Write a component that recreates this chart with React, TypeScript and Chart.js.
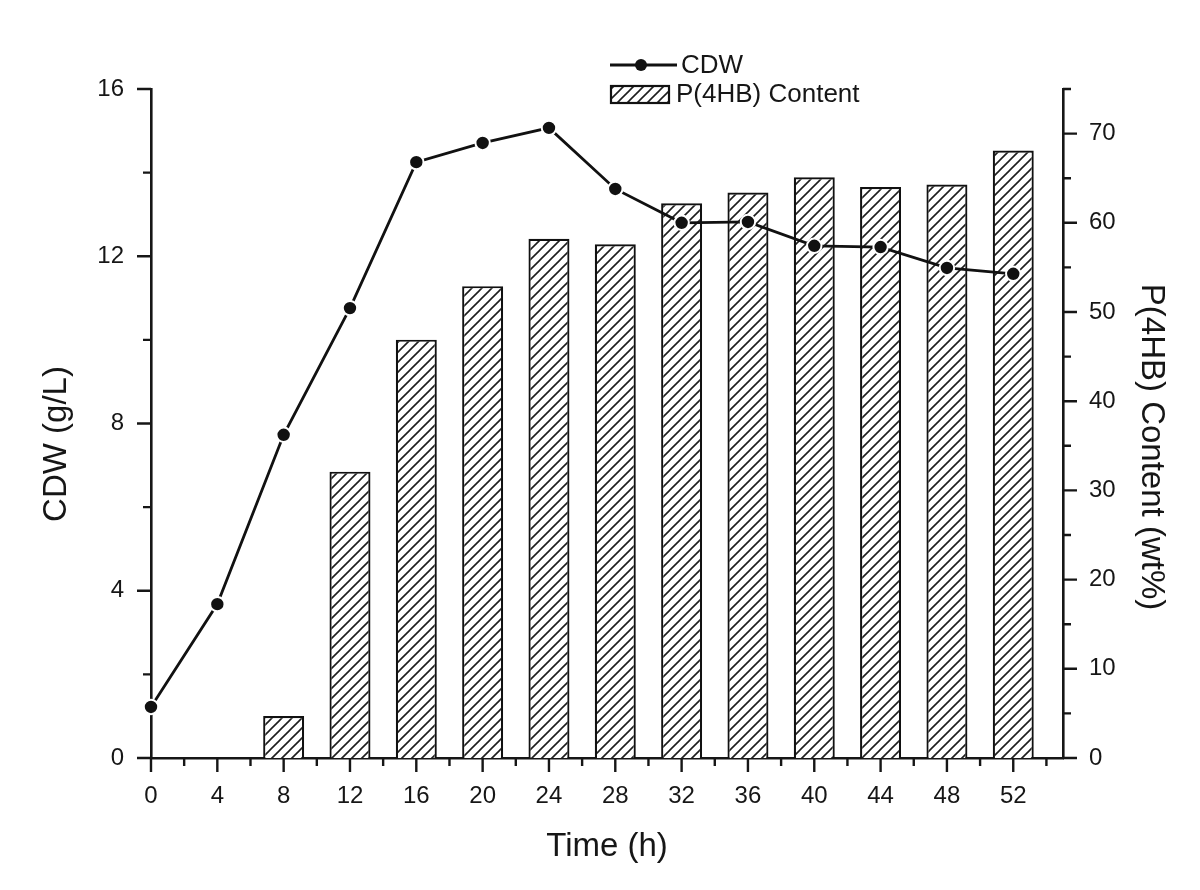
import React, { useEffect, useRef } from "react";
import { Chart, registerables } from "chart.js";

Chart.register(...registerables);

const timeH = [0, 4, 8, 12, 16, 20, 24, 28, 32, 36, 40, 44, 48, 52];
const cdw = [1.22, 3.68, 7.73, 10.76, 14.25, 14.71, 15.07, 13.61, 12.8, 12.82, 12.25, 12.22, 11.72, 11.58];
const p4hb = [null, null, 4.7, 32.1, 46.9, 52.9, 58.2, 57.6, 62.2, 63.4, 65.1, 64.0, 64.3, 68.1];

const xTitle = "Time (h)";
const yTitle = "CDW (g/L)";
const y1Title = "P(4HB) Content (wt%)";
const lineLabel = "CDW";
const barLabel = "P(4HB) Content";

const FONT = "'Liberation Sans', Arial, Helvetica, sans-serif";
const INK = "#161616";

function makeHatch(ctx: CanvasRenderingContext2D) {
  const s = 10;
  const c = document.createElement("canvas");
  c.width = s;
  c.height = s;
  const g = c.getContext("2d")!;
  g.fillStyle = "#fff";
  g.fillRect(0, 0, s, s);
  g.strokeStyle = "#1e1e1e";
  g.lineWidth = 1.6;
  g.beginPath();
  g.moveTo(-1, s + 1);
  g.lineTo(s + 1, -1);
  g.moveTo(-s / 2 - 1, s / 2 + 1);
  g.lineTo(s / 2 + 1, -s / 2 - 1);
  g.moveTo(s / 2 - 1, s * 1.5 + 1);
  g.lineTo(s * 1.5 + 1, s / 2 - 1);
  g.stroke();
  return ctx.createPattern(c, "repeat")!;
}

export default function App() {
  const ref = useRef<HTMLCanvasElement | null>(null);

  useEffect(() => {
    const canvas = ref.current!;
    const hatch = makeHatch(canvas.getContext("2d")!);

    const decor = {
      id: "decor",
      afterDraw(chart: any) {
        const ctx = chart.ctx as CanvasRenderingContext2D;
        const xs = chart.scales.x;
        const ys = chart.scales.y;
        const y1s = chart.scales.y1;
        const area = chart.chartArea;
        ctx.save();
        ctx.strokeStyle = INK;
        ctx.lineWidth = 2.4;
        ctx.beginPath();
        for (let v = 0; v <= xs.max + 0.001; v += 2) {
          const px = xs.getPixelForValue(v);
          const len = v % 4 === 0 ? 14 : 8;
          ctx.moveTo(px, area.bottom);
          ctx.lineTo(px, area.bottom + len);
        }
        for (let v = 0; v <= ys.max + 0.001; v += 2) {
          const py = ys.getPixelForValue(v);
          const len = v % 4 === 0 ? 14 : 8;
          ctx.moveTo(area.left, py);
          ctx.lineTo(area.left - len, py);
        }
        for (let v = 0; v <= y1s.max + 0.001; v += 5) {
          const py = y1s.getPixelForValue(v);
          const len = v % 10 === 0 ? 14 : 8;
          ctx.moveTo(area.right, py);
          ctx.lineTo(area.right + len, py);
        }
        ctx.stroke();

        ctx.fillStyle = INK;
        ctx.font = `33px ${FONT}`;
        ctx.textAlign = "center";
        ctx.textBaseline = "middle";
        ctx.fillText(xTitle, (area.left + area.right) / 2, 847);
        ctx.save();
        ctx.translate(57, 444);
        ctx.rotate(-Math.PI / 2);
        ctx.fillText(yTitle, 0, 0);
        ctx.restore();
        ctx.save();
        ctx.translate(1151, 447);
        ctx.rotate(Math.PI / 2);
        ctx.fillText(y1Title, 0, 0);
        ctx.restore();

        ctx.lineWidth = 2.8;
        ctx.strokeStyle = "#111";
        ctx.beginPath();
        ctx.moveTo(610, 65);
        ctx.lineTo(677, 65);
        ctx.stroke();
        ctx.fillStyle = "#111";
        ctx.beginPath();
        ctx.arc(641, 65, 6, 0, Math.PI * 2);
        ctx.fill();
        ctx.fillStyle = hatch;
        ctx.fillRect(611, 86, 58, 17);
        ctx.lineWidth = 2.2;
        ctx.strokeRect(611, 86, 58, 17);
        ctx.fillStyle = INK;
        ctx.font = `26px ${FONT}`;
        ctx.textAlign = "left";
        ctx.fillText(lineLabel, 681, 66);
        ctx.fillText(barLabel, 676, 95);
        ctx.restore();
      },
    };

    const tickFont = { family: FONT, size: 24 };

    const chart = new Chart(canvas, {
      type: "bar",
      data: {
        datasets: [
          {
            type: "line",
            label: lineLabel,
            data: timeH.map((t, i) => ({ x: t, y: cdw[i] })),
            yAxisID: "y",
            borderColor: "#111",
            borderWidth: 2.8,
            pointRadius: 7.2,
            pointBorderWidth: 2,
            pointBackgroundColor: "#111",
            pointBorderColor: "#fff",
            tension: 0,
            clip: false,
            order: 0,
          } as any,
          {
            type: "bar",
            label: barLabel,
            data: timeH.map((t, i) => ({ x: t, y: p4hb[i] })),
            yAxisID: "y1",
            backgroundColor: hatch,
            borderColor: "#111",
            borderWidth: 2.2,
            borderSkipped: "bottom",
            barPercentage: 1,
            categoryPercentage: 0.618,
            order: 1,
          } as any,
        ],
      },
      options: {
        animation: false,
        responsive: true,
        maintainAspectRatio: false,
        layout: { padding: { top: 89, left: 0, right: 0, bottom: 0 } },
        plugins: { legend: { display: false }, tooltip: { enabled: false } },
        scales: {
          x: {
            type: "linear",
            min: 0,
            max: 55,
            offset: false,
            grid: { display: false, offset: false },
            border: { display: true, color: INK, width: 2.6 },
            ticks: {
              stepSize: 4,
              includeBounds: false,
              padding: 16,
              color: INK,
              font: tickFont,
              maxRotation: 0,
              autoSkip: false,
            },
            afterFit: (s: any) => {
              s.height = 132;
            },
          },
          y: {
            position: "left",
            min: 0,
            max: 16,
            grid: { display: false },
            border: { display: true, color: INK, width: 2.6 },
            ticks: { stepSize: 4, padding: 19, color: INK, font: tickFont },
            afterFit: (s: any) => {
              s.width = 151;
            },
          },
          y1: {
            position: "right",
            min: 0,
            max: 75,
            grid: { display: false },
            border: { display: true, color: INK, width: 2.6 },
            ticks: {
              stepSize: 10,
              includeBounds: false,
              padding: 18,
              color: INK,
              font: tickFont,
            },
            afterFit: (s: any) => {
              s.width = 137;
            },
          },
        },
      },
      plugins: [decor],
    });
    return () => chart.destroy();
  }, []);

  return (
    <div style={{ position: "fixed", left: 0, top: 0, width: 1200, height: 890, background: "#fff" }}>
      <canvas ref={ref} />
    </div>
  );
}
